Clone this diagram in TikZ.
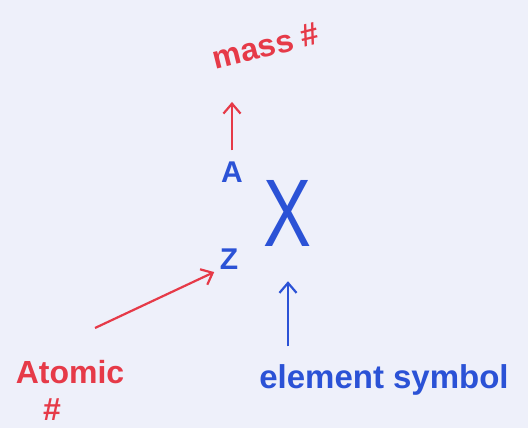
\documentclass[tikz,border=0pt]{standalone}
\usepackage{fontspec}
\setmainfont{Liberation Sans}
\usepackage{tikz}
\usetikzlibrary{arrows.meta,positioning,calc}
\definecolor{paper}{HTML}{EEF0FA}
\definecolor{inkred}{HTML}{E63A48}
\definecolor{inkblue}{HTML}{2B52D6}

\begin{document}
\begin{tikzpicture}[
  x=1pt,y=-1pt,
  every node/.style={inner sep=0pt,anchor=center},
  redlbl/.style={text=inkred,font=\bfseries\fontsize{32}{34}\selectfont},
  bluelbl/.style={text=inkblue,font=\bfseries\fontsize{33}{35}\selectfont},
  sym/.style={text=inkblue,font=\bfseries\fontsize{30}{32}\selectfont},
  redarr/.style={-{Straight Barb[length=3.5mm,width=6mm]},line width=2.2pt,inkred},
  bluearr/.style={-{Straight Barb[length=3.5mm,width=6mm]},line width=2.2pt,inkblue}
]
\fill[paper] (0,0) rectangle (528,428);
\useasboundingbox (0,0) rectangle (528,428);

\node[redlbl,rotate=14] (mass) at (266,46) {mass \#};
\node[sym] (a) at (232,172) {A};
\node[text=inkblue,font=\fontsize{96}{98}\selectfont,xscale=0.75] (xx) at (288,213) {X};
\node[sym] (z) at (229,259) {Z};
\node[redlbl] (atomic) at (70,372) {Atomic};
\node[redlbl] (hash) at (52,410) {\#};
\node[bluelbl] (elem) at (384,380) {element symbol};
\coordinate (tail) at (95,328);

\draw[redarr,shorten <=11pt,shorten >=45pt] (a.north) -- (a.north |- mass.south);
\draw[redarr,shorten >=6pt] (tail) -- (z.south west);
\draw[bluearr,shorten <=18pt,shorten >=35pt] (elem.north -| xx.south) -- (xx.south);
\end{tikzpicture}
\end{document}
